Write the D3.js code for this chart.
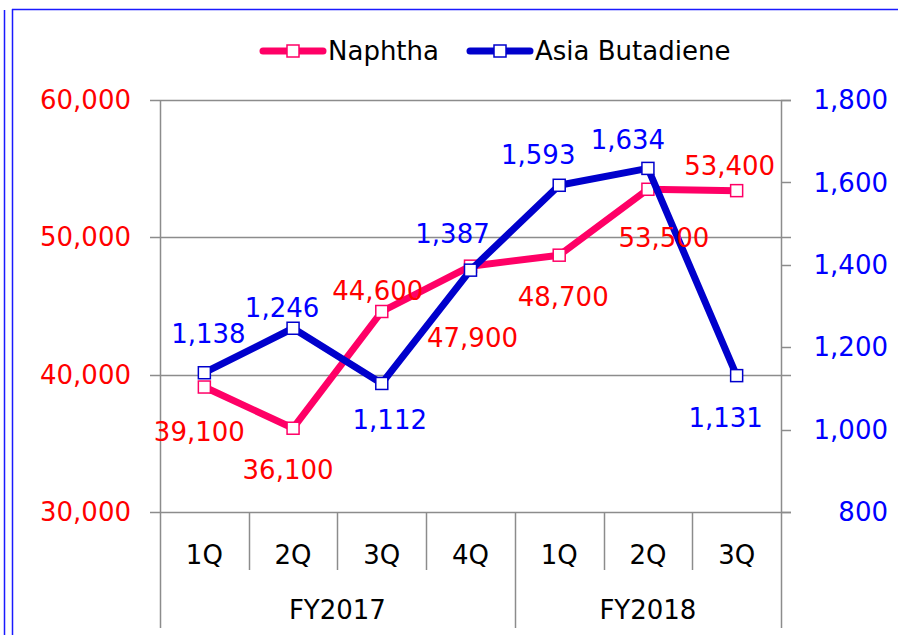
<!DOCTYPE html>
<html>
<head>
<meta charset="utf-8">
<script src="https://cdn.jsdelivr.net/npm/d3@7"></script>
<style>
  body { margin: 0; background: #fff; }
  svg { display: block; font-family: "DejaVu Sans", Verdana, sans-serif; }
</style>
</head>
<body>
<div id="chart"></div>
<script>
// data
var quarters = ["1Q", "2Q", "3Q", "4Q", "1Q", "2Q", "3Q"];
var fiscalYears = [
  { label: "FY2017", from: 0, to: 4 },
  { label: "FY2018", from: 4, to: 7 }
];
var naphtha = [39100, 36100, 44600, 47900, 48700, 53500, 53400];
var butadiene = [1138, 1246, 1112, 1387, 1593, 1634, 1131];
var leftTicks = [30000, 40000, 50000, 60000];
var rightTicks = [800, 1000, 1200, 1400, 1600, 1800];

// hand-placed label offsets (dx, dy from the point)
var naphthaLabelPos = [[-5, 45], [-5, 42], [-4, -21], [2, 72], [4, 42], [16, 49], [-7, -25]];
var butadieneLabelPos = [[4, -39], [-11, -20], [8, 36], [-18, -36], [-21, -30], [-20, -28], [-11, 42]];

var W = 898, H = 635;
var plotLeft = 160, plotRight = 781, plotTop = 100, plotBottom = 512;

var svg = d3.select("#chart").append("svg")
  .attr("width", W)
  .attr("height", H);

// blue frame lines
svg.append("line").attr("x1", 4.5).attr("x2", 4.5).attr("y1", 10).attr("y2", H)
  .attr("stroke", "#1a1aff").attr("stroke-width", 1.5);
svg.append("line").attr("x1", 12.5).attr("x2", 12.5).attr("y1", 9).attr("y2", H)
  .attr("stroke", "#1a1aff").attr("stroke-width", 1.5);
svg.append("line").attr("x1", 12).attr("x2", W).attr("y1", 9.5).attr("y2", 9.5)
  .attr("stroke", "#1a1aff").attr("stroke-width", 1.5);

var x = d3.scaleBand()
  .domain(d3.range(quarters.length))
  .range([plotLeft, plotRight])
  .padding(0);

var yL = d3.scaleLinear().domain([30000, 60000]).range([plotBottom, plotTop]);
var yR = d3.scaleLinear().domain([800, 1800]).range([plotBottom, plotTop]);

var fmt = d3.format(",");
var grey = "#8c8c8c";

// gridlines
svg.append("g").selectAll("line")
  .data(leftTicks)
  .enter().append("line")
  .attr("x1", plotLeft - 10).attr("x2", plotRight + 10)
  .attr("y1", function(d) { return Math.round(yL(d)) + 0.5; })
  .attr("y2", function(d) { return Math.round(yL(d)) + 0.5; })
  .attr("stroke", grey).attr("stroke-width", 1.5);

// right-axis tick marks
svg.append("g").selectAll("line")
  .data(rightTicks)
  .enter().append("line")
  .attr("x1", plotRight).attr("x2", plotRight + 10)
  .attr("y1", function(d) { return Math.round(yR(d)) + 0.5; })
  .attr("y2", function(d) { return Math.round(yR(d)) + 0.5; })
  .attr("stroke", grey).attr("stroke-width", 1.5);

// axis verticals
svg.append("line").attr("x1", plotLeft + 0.5).attr("x2", plotLeft + 0.5).attr("y1", plotTop).attr("y2", 628)
  .attr("stroke", grey).attr("stroke-width", 1.5);
svg.append("line").attr("x1", plotRight + 0.5).attr("x2", plotRight + 0.5).attr("y1", plotTop).attr("y2", 628)
  .attr("stroke", grey).attr("stroke-width", 1.5);

// category separators
svg.append("g").selectAll("line")
  .data(d3.range(1, quarters.length))
  .enter().append("line")
  .attr("x1", function(i) { return Math.round(x(i)) + 0.5; })
  .attr("x2", function(i) { return Math.round(x(i)) + 0.5; })
  .attr("y1", plotBottom)
  .attr("y2", function(i) {
    var isGroupEdge = fiscalYears.some(function(f) { return f.from === i; });
    return isGroupEdge ? 628 : 570;
  })
  .attr("stroke", grey).attr("stroke-width", 1.5);

// tick labels
svg.append("g").selectAll("text")
  .data(leftTicks)
  .enter().append("text")
  .attr("x", 131).attr("y", function(d) { return yL(d); })
  .attr("dy", "0.35em")
  .attr("text-anchor", "end")
  .attr("fill", "#ff0000")
  .style("font-size", "26px")
  .text(fmt);

svg.append("g").selectAll("text")
  .data(rightTicks)
  .enter().append("text")
  .attr("x", 888).attr("y", function(d) { return yR(d); })
  .attr("dy", "0.35em")
  .attr("text-anchor", "end")
  .attr("fill", "#0000ff")
  .style("font-size", "26px")
  .text(fmt);

svg.append("g").selectAll("text")
  .data(quarters)
  .enter().append("text")
  .attr("x", function(d, i) { return x(i) + x.bandwidth() / 2; })
  .attr("y", 555)
  .attr("dy", "0.35em")
  .attr("text-anchor", "middle")
  .attr("fill", "#000")
  .style("font-size", "26px")
  .text(function(d) { return d; });

svg.append("g").selectAll("text")
  .data(fiscalYears)
  .enter().append("text")
  .attr("x", function(d) { return (x(d.from) + x(d.to - 1) + x.bandwidth()) / 2; })
  .attr("y", 610)
  .attr("dy", "0.35em")
  .attr("text-anchor", "middle")
  .attr("fill", "#000")
  .style("font-size", "26px")
  .text(function(d) { return d.label; });

// series
var series = [
  { name: "Naphtha", values: naphtha, scale: yL, color: "#ff0066", labelColor: "#ff0000", pos: naphthaLabelPos, legendX: 263 },
  { name: "Asia Butadiene", values: butadiene, scale: yR, color: "#0000cc", labelColor: "#0000ff", pos: butadieneLabelPos, legendX: 470 }
];

var cx = function(i) { return x(i) + x.bandwidth() / 2; };
var ms = 12;

series.forEach(function(s) {
  var line = d3.line()
    .x(function(d, i) { return cx(i); })
    .y(function(d) { return s.scale(d); });

  svg.append("path")
    .datum(s.values)
    .attr("d", line)
    .attr("fill", "none")
    .attr("stroke", s.color)
    .attr("stroke-width", 7)
    .attr("stroke-linejoin", "round");

  svg.append("g").selectAll("rect")
    .data(s.values)
    .enter().append("rect")
    .attr("x", function(d, i) { return cx(i) - ms / 2; })
    .attr("y", function(d) { return s.scale(d) - ms / 2; })
    .attr("width", ms).attr("height", ms)
    .attr("fill", "#fff")
    .attr("stroke", s.color)
    .attr("stroke-width", 1.5);

  // legend
  var ly = 51;
  svg.append("line")
    .attr("x1", s.legendX).attr("x2", s.legendX + 60)
    .attr("y1", ly).attr("y2", ly)
    .attr("stroke", s.color).attr("stroke-width", 7)
    .attr("stroke-linecap", "round");
  svg.append("rect")
    .attr("x", s.legendX + 30 - ms / 2).attr("y", ly - ms / 2)
    .attr("width", ms).attr("height", ms)
    .attr("fill", "#fff").attr("stroke", s.color).attr("stroke-width", 1.5);
  svg.append("text")
    .attr("x", s.legendX + 65).attr("y", ly)
    .attr("dy", "0.35em")
    .attr("fill", "#000")
    .style("font-size", "26px")
    .text(s.name);
});

// data labels on top
series.forEach(function(s) {
  svg.append("g").selectAll("text")
    .data(s.values)
    .enter().append("text")
    .attr("x", function(d, i) { return cx(i) + s.pos[i][0]; })
    .attr("y", function(d, i) { return s.scale(d) + s.pos[i][1]; })
    .attr("dy", "0.35em")
    .attr("text-anchor", "middle")
    .attr("fill", s.labelColor)
    .style("font-size", "26px")
    .text(fmt);
});
</script>
</body>
</html>
